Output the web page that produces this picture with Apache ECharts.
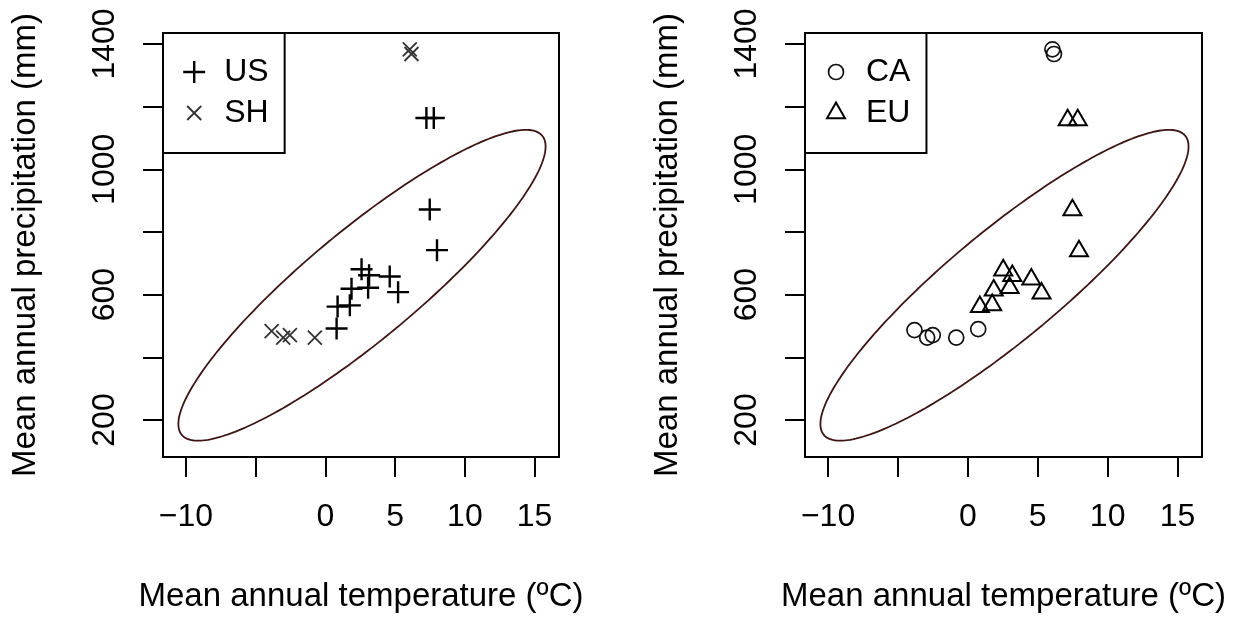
<!DOCTYPE html>
<html>
<head>
<meta charset="utf-8">
<script src="https://cdn.jsdelivr.net/npm/echarts@6/dist/echarts.min.js"></script>
<style>
html,body{margin:0;padding:0;background:#fff;}
#chart{width:1234px;height:618px;}
</style>
</head>
<body>
<div id="chart"></div>
<script>
// ---- data ----
var usTemp   = [2.59, 3.13, 3.06, 4.61, 5.21, 1.87, 1.75, 0.87, 0.80, 8.00, 7.48, 7.24, 7.77];
var usPrecip = [681, 662, 622, 658, 608, 619, 566, 562, 492, 742, 872, 1164, 1164];
var shTemp   = [-3.86, -3.03, -2.55, -0.76, 6.05, 6.17];
var shPrecip = [484, 463, 471, 463, 1383, 1368];
var caTemp   = [-3.82, -2.91, -2.51, -0.83, 0.74, 6.05, 6.16];
var caPrecip = [487, 463, 471, 463, 490, 1383, 1368];
var euTemp   = [2.53, 3.18, 4.54, 1.85, 2.99, 5.27, 0.86, 1.74, 7.95, 7.48, 7.14, 7.86];
var euPrecip = [678, 660, 649, 614, 622, 604, 561, 567, 739, 870, 1157, 1157];

var xTicks = [-10, -5, 0, 5, 10, 15];
var xTickLabels = [-10, 0, 5, 10, 15];
var yTicks = [200, 400, 600, 800, 1000, 1200, 1400];
var yTickLabels = [200, 600, 1000, 1400];

// ellipse parameters (centre, half extents, correlation)
var ellipseCenter = [2.62, 630];
var ellipseHalfWidth = 13.17;
var ellipseHalfHeight = 496;
var ellipseCorr = 0.893;

function ellipsePoints() {
  var pts = [];
  var n = 240;
  var s = Math.sqrt(1 - ellipseCorr * ellipseCorr);
  for (var i = 0; i <= n; i++) {
    var t = 2 * Math.PI * i / n;
    pts.push([
      ellipseCenter[0] + ellipseHalfWidth * Math.cos(t),
      ellipseCenter[1] + ellipseHalfHeight * (ellipseCorr * Math.cos(t) + s * Math.sin(t))
    ]);
  }
  return pts;
}
function zip(a, b) { return a.map(function (v, i) { return [v, b[i]]; }); }

var FONT = 'Liberation Sans, Arial, sans-serif';
var FS = 32;
var FST = 33;
var plusPath  = 'path://M0,11 L22,11 M11,0 L11,22';
var crossPath = 'path://M0,0 M22,22 M4,4 L18,18 M18,4 L4,18';
var circPath  = 'path://M0,0 M22,22 M3.5,11 A7.5,7.5 0 1 1 18.5,11 A7.5,7.5 0 1 1 3.5,11 Z';
var triPath   = 'path://M0,0 M22,22 M11,0.6 L20,16.2 L2,16.2 Z';

function fmtNum(v) { return v < 0 ? '\u2212' + Math.abs(v) : String(v); }

function xAxis(idx) {
  return {
    gridIndex: idx, type: 'value', min: -11.65, max: 16.75,
    name: 'Mean annual temperature (\u00BAC)', nameLocation: 'middle', nameGap: 123,
    nameTextStyle: { fontFamily: FONT, fontSize: FST, color: '#000' },
    axisLine: { show: true, onZero: false, lineStyle: { color: '#000', width: 2 } },
    axisTick: { show: true, inside: false, length: 20, customValues: xTicks, lineStyle: { color: '#000', width: 2 } },
    axisLabel: { show: true, customValues: xTickLabels, margin: 44, fontFamily: FONT, fontSize: FS, color: '#000', formatter: fmtNum },
    splitLine: { show: false }
  };
}
function yAxis(idx) {
  return {
    gridIndex: idx, type: 'value', min: 82, max: 1435,
    name: 'Mean annual precipitation (mm)', nameLocation: 'middle', nameGap: 121,
    nameTextStyle: { fontFamily: FONT, fontSize: FST, color: '#000' },
    axisLine: { show: true, onZero: false, lineStyle: { color: '#000', width: 2 } },
    axisTick: { show: true, inside: false, length: 20, customValues: yTicks, lineStyle: { color: '#000', width: 2 } },
    axisLabel: { show: true, customValues: yTickLabels, rotate: 90, margin: 42, fontFamily: FONT, fontSize: FS, color: '#000', formatter: fmtNum },
    splitLine: { show: false }
  };
}
function legend(left, names, itemStyles) {
  return {
    left: left, top: 33, orient: 'vertical',
    data: names.map(function (n, i) { return { name: n, itemStyle: itemStyles[i] }; }),
    itemWidth: 22, itemHeight: 22, itemGap: 9,
    padding: [23, 16, 24, 19],
    borderColor: '#000', borderWidth: 2, borderRadius: 0,
    backgroundColor: '#fff',
    selectedMode: false,
    textStyle: { fontFamily: FONT, fontSize: FS, color: '#000', padding: [0, 0, 0, 14] }
  };
}

var ELL = '#3d1515';
var plusStroke = { color: 'rgba(0,0,0,0)', borderColor: '#000', borderWidth: 2.4, opacity: 1 };
var triStroke = { color: 'rgba(0,0,0,0)', borderColor: '#000', borderWidth: 2, opacity: 1 };
var greyStroke = { color: 'rgba(0,0,0,0)', borderColor: '#333', borderWidth: 1.8, opacity: 1 };
var circStroke = { color: 'rgba(0,0,0,0)', borderColor: '#111', borderWidth: 1.7, opacity: 1 };

var option = {
  animation: false,
  backgroundColor: '#fff',
  grid: [
    { left: 163, top: 33, width: 396, height: 425, show: true, borderColor: '#000', borderWidth: 2, backgroundColor: 'transparent' },
    { left: 805, top: 33, width: 397, height: 425, show: true, borderColor: '#000', borderWidth: 2, backgroundColor: 'transparent' }
  ],
  xAxis: [xAxis(0), xAxis(1)],
  yAxis: [yAxis(0), yAxis(1)],
  legend: [
    legend(163, ['US', 'SH'], [plusStroke, greyStroke]),
    legend(805, ['CA', 'EU'], [circStroke, triStroke])
  ],
  series: [
    { type: 'line', xAxisIndex: 0, yAxisIndex: 0, data: ellipsePoints(), showSymbol: false, symbol: 'none',
      lineStyle: { color: ELL, width: 1.8 }, silent: true, z: 1 },
    { type: 'line', xAxisIndex: 1, yAxisIndex: 1, data: ellipsePoints(), showSymbol: false, symbol: 'none',
      lineStyle: { color: ELL, width: 1.8 }, silent: true, z: 1 },
    { name: 'US', type: 'scatter', xAxisIndex: 0, yAxisIndex: 0, data: zip(usTemp, usPrecip),
      symbol: plusPath, symbolSize: 22, itemStyle: plusStroke, z: 3 },
    { name: 'SH', type: 'scatter', xAxisIndex: 0, yAxisIndex: 0, data: zip(shTemp, shPrecip),
      symbol: crossPath, symbolSize: 22, itemStyle: greyStroke, z: 3 },
    { name: 'CA', type: 'scatter', xAxisIndex: 1, yAxisIndex: 1, data: zip(caTemp, caPrecip),
      symbol: circPath, symbolSize: 22, itemStyle: circStroke, z: 3 },
    { name: 'EU', type: 'scatter', xAxisIndex: 1, yAxisIndex: 1, data: zip(euTemp, euPrecip),
      symbol: triPath, symbolSize: 22, itemStyle: triStroke, z: 3 }
  ]
};
var chart = echarts.init(document.getElementById('chart'), null, { renderer: 'canvas' });
chart.setOption(option);
</script>
</body>
</html>
